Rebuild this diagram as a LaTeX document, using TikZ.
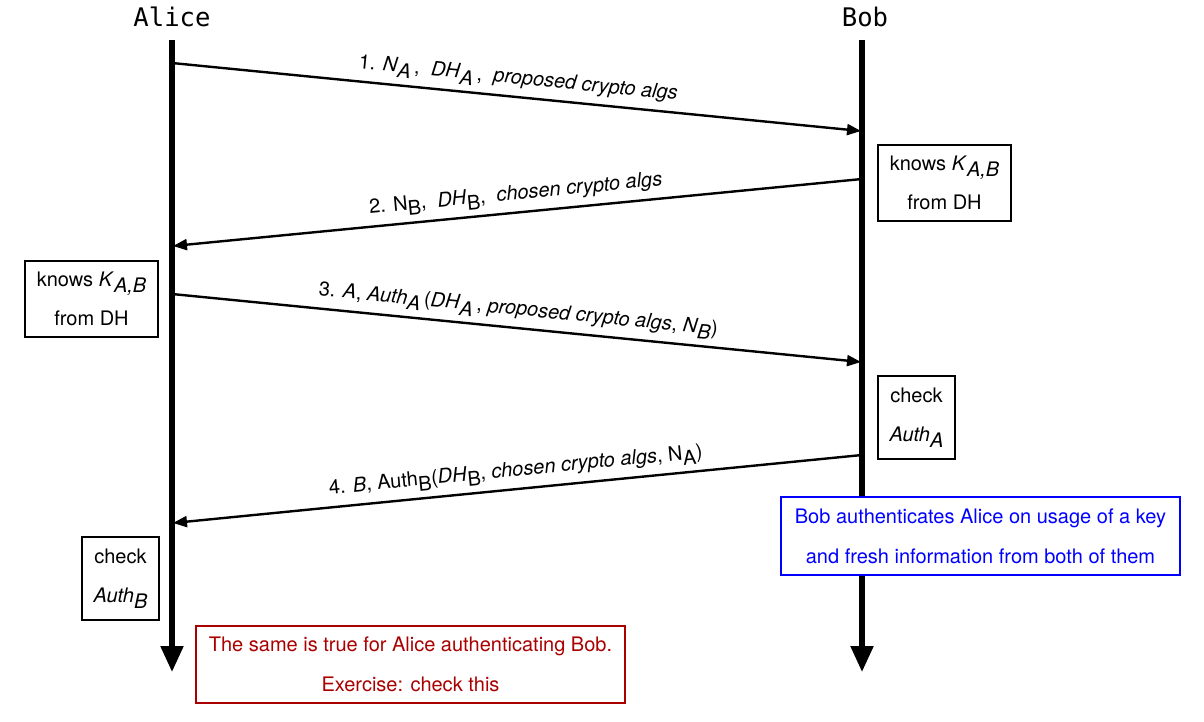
\documentclass[tikz,border=0pt]{standalone}
\usepackage{fontspec}
\setmainfont{TeX Gyre Heros}
\newfontfamily\monofnt{DejaVu Sans Mono}
\usetikzlibrary{arrows.meta}
\newcommand{\sbs}[1]{\raisebox{-0.55ex}{#1}}
\definecolor{noteblue}{RGB}{0,0,255}
\definecolor{notered}{RGB}{170,0,0}
\begin{document}
\begin{tikzpicture}[x=0.5pt,y=-0.5pt,
  lifeline/.style={line width=2.6pt,-{Triangle[length=13pt,width=11pt]}},
  msg/.style={line width=1.2pt,-{Triangle[length=7pt,width=5.5pt]}},
  msglabel/.style={midway,above,sloped,font=\fontsize{10}{12}\selectfont,inner sep=3pt},
  actor/.style={font=\monofnt\fontsize{12.8}{15}\selectfont},
  notebox/.style={draw,line width=0.6pt,align=center,inner sep=0pt,font=\fontsize{10}{12}\selectfont}]
\useasboundingbox (0,0) rectangle (1204,722);
\node[actor] (alice) at (172,17) {Alice};
\node[actor] (bob) at (865,17) {Bob};
\coordinate (a0) at (172,40);
\coordinate (a1) at (172,672);
\coordinate (b0) at (862,40);
\coordinate (b1) at (862,672);
\draw[lifeline] (a0) -- (a1);
\draw[lifeline] (b0) -- (b1);
% messages
\coordinate (m1s) at (172,63);  \coordinate (m1e) at (861,131);
\coordinate (m2s) at (862,179); \coordinate (m2e) at (173,246);
\coordinate (m3s) at (172,294); \coordinate (m3e) at (861,362);
\coordinate (m4s) at (862,455); \coordinate (m4e) at (173,523);
\draw[msg] (m1s) -- (m1e) node[msglabel] {1. \textit{N}\sbs{\textit{A}}\,,\; \textit{DH}\sbs{\textit{A}}\,,\; \textit{proposed crypto algs}};
\draw[msg] (m2s) -- (m2e) node[msglabel] {2. N\sbs{B},\; \textit{DH}\sbs{B},\; \textit{chosen crypto algs}};
\draw[msg] (m3s) -- (m3e) node[msglabel] {3. \textit{A}, \textit{Auth}\sbs{\textit{A}}\,(\textit{DH}\sbs{\textit{A}}\,, \textit{proposed crypto algs}, \textit{N}\sbs{\textit{B}})};
\draw[msg] (m4s) -- (m4e) node[msglabel] {4. \textit{B}, Auth\sbs{B}(\textit{DH}\sbs{B}, \textit{chosen crypto algs}, N\sbs{A})};
% boxes
\node[notebox,minimum width=66.5pt,minimum height=38pt] (bk) at (944.5,183) {knows \textit{K}\sbs{\textit{A,B}}\\[7.5pt]from DH};
\node[notebox,minimum width=66.5pt,minimum height=38pt] (ak) at (91.5,299) {knows \textit{K}\sbs{\textit{A,B}}\\[7.5pt]from DH};
\node[notebox,minimum width=38.5pt,minimum height=41.5pt] (bc) at (916.5,417.5) {check\\[7.5pt]\textit{Auth}\sbs{\textit{A}}};
\node[notebox,minimum width=38.5pt,minimum height=41.5pt] (ac) at (120.5,578.5) {check\\[7.5pt]\textit{Auth}\sbs{\textit{B}}};
\node[notebox,draw=noteblue,text=noteblue,fill=white,minimum width=199.5pt,minimum height=39pt] (blue) at (980.5,536) {Bob authenticates Alice on usage of a key\\[8pt]and fresh information from both of them};
\node[notebox,draw=notered,text=notered,minimum width=214.5pt,minimum height=38.5pt] (red) at (410.5,664.5) {The same is true for Alice authenticating Bob.\\[8pt]Exercise: check this};
\end{tikzpicture}
\end{document}
